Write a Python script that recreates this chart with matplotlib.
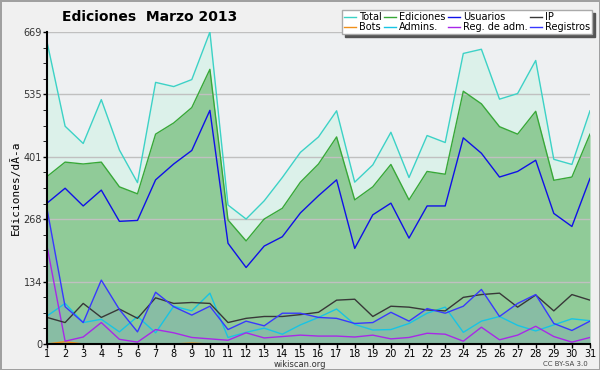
import numpy as np
import matplotlib.pyplot as plt
from matplotlib.ticker import FixedLocator, MultipleLocator

# Datos (ediciones por día, marzo 2013)
dias = np.arange(1, 32)
total = [648, 467, 430, 524, 416, 346, 561, 552, 567, 669, 298, 268, 307, 357, 411,
         444, 500, 347, 384, 454, 357, 447, 432, 623, 632, 525, 537, 608, 396, 385, 500]
ediciones = [359, 390, 386, 390, 337, 322, 450, 474, 507, 589, 266, 221, 268, 291, 347,
             386, 444, 309, 337, 385, 309, 370, 364, 542, 515, 466, 450, 499, 351, 358, 450]
usuarios = [302, 334, 296, 330, 263, 265, 352, 386, 415, 501, 216, 164, 210, 230, 281,
            318, 352, 205, 277, 302, 227, 296, 296, 442, 409, 358, 370, 394, 280, 252, 355]
ip = [57, 46, 87, 57, 75, 55, 99, 87, 89, 87, 46, 55, 59, 59, 63,
      68, 94, 96, 59, 81, 79, 73, 71, 100, 106, 109, 79, 105, 71, 106, 94]
bots = [0, 5, 0, 0, 0, 0, 0, 0, 2, 0, 0, 0, 0, 0, 0,
        0, 0, 0, 0, 0, 0, 0, 0, 0, 0, 0, 0, 0, 0, 0, 0]
admins = [60, 87, 46, 53, 26, 59, 24, 81, 71, 109, 14, 25, 34, 21, 41,
          57, 75, 42, 30, 31, 44, 66, 79, 25, 49, 59, 40, 28, 41, 54, 50]
reg_adm = [210, 6, 15, 46, 10, 4, 31, 24, 14, 11, 8, 24, 13, 16, 19,
           17, 17, 15, 19, 11, 14, 23, 21, 6, 36, 9, 19, 38, 16, 4, 14]
registros = [290, 80, 46, 137, 74, 26, 111, 80, 62, 81, 31, 49, 39, 66, 66,
             57, 55, 44, 46, 68, 49, 76, 66, 81, 117, 59, 87, 106, 44, 29, 49]

ymax = 669

fig = plt.figure(figsize=(6, 3.7), dpi=100, facecolor='#f0f0f0',
                 edgecolor='#a0a0a0', linewidth=2)
ax = fig.add_axes([47/600, 26/370, 543/600, 312/370])
ax.set_facecolor('#eef0f2')

# Áreas
ax.fill_between(dias, total, color='#dcf1ea', lw=0)
ax.fill_between(dias, ediciones, color='#90cb98', lw=0)
ax.fill_between(dias, registros, color='#5060ff', alpha=0.12, lw=0)

# Líneas
ax.plot(dias, total, color='#3cd2c6', lw=1, label='Total')
ax.plot(dias, bots, color='#f0901a', lw=1, label='Bots')
ax.plot(dias, ediciones, color='#38a838', lw=1, label='Ediciones')
ax.plot(dias, admins, color='#18c4e4', lw=1, label='Admins.')
ax.plot(dias, usuarios, color='#1010e8', lw=1, label='Usuarios')
ax.plot(dias, reg_adm, color='#a828e8', lw=1, label='Reg. de adm.')
ax.plot(dias, ip, color='#383838', lw=1, label='IP')
ax.plot(dias, registros, color='#3838ff', lw=1, label='Registros')

ax.set_xlim(1, 31)
ax.set_ylim(0, ymax)
ax.set_xticks(dias)
ax.set_xticklabels([str(d) for d in dias], fontsize=7)
yt = np.linspace(0, ymax, 6)
ax.yaxis.set_major_locator(FixedLocator(yt))
ax.set_yticklabels([str(int(round(v))) for v in yt], fontsize=7, color='#333333')
ax.yaxis.set_minor_locator(MultipleLocator(ymax / 20))
ax.tick_params(axis='both', direction='out', length=3, width=1, pad=0.5)
ax.tick_params(axis='y', which='minor', length=3)
ax.set_axisbelow('line')
ax.yaxis.grid(True, color='#c0c0c0', lw=1)

for s in ['top', 'right']:
    ax.spines[s].set_visible(False)
ax.spines['left'].set_linewidth(1.5)
ax.spines['bottom'].set_linewidth(1.5)

ax.set_ylabel('Ediciones/dÃ-a', family='DejaVu Sans Mono', fontsize=8, labelpad=2)
fig.text(150/600, 1 - 17/370, 'Ediciones  Marzo 2013', ha='center', va='center',
         fontsize=10, fontweight='bold')
fig.text(300/600, 1 - 364.5/370, 'wikiscan.org', ha='center', va='center',
         fontsize=6, color='#333333')
fig.text(565/600, 1 - 364/370, 'CC BY-SA 3.0', ha='center', va='center',
         fontsize=5, color='#444444')

leg = fig.legend(loc='upper right', bbox_to_anchor=(592/600, 1 - 10/370), ncol=4,
                 fontsize=7, handlelength=1.2, handletextpad=0.3, columnspacing=0.3,
                 labelspacing=0.0, borderpad=0.2, borderaxespad=0, fancybox=False,
                 shadow={'color': '#555555', 'alpha': 1}, edgecolor='#aaaaaa',
                 framealpha=1)

fig.savefig('out.png', dpi=100, facecolor=fig.get_facecolor(), edgecolor=fig.get_edgecolor())
